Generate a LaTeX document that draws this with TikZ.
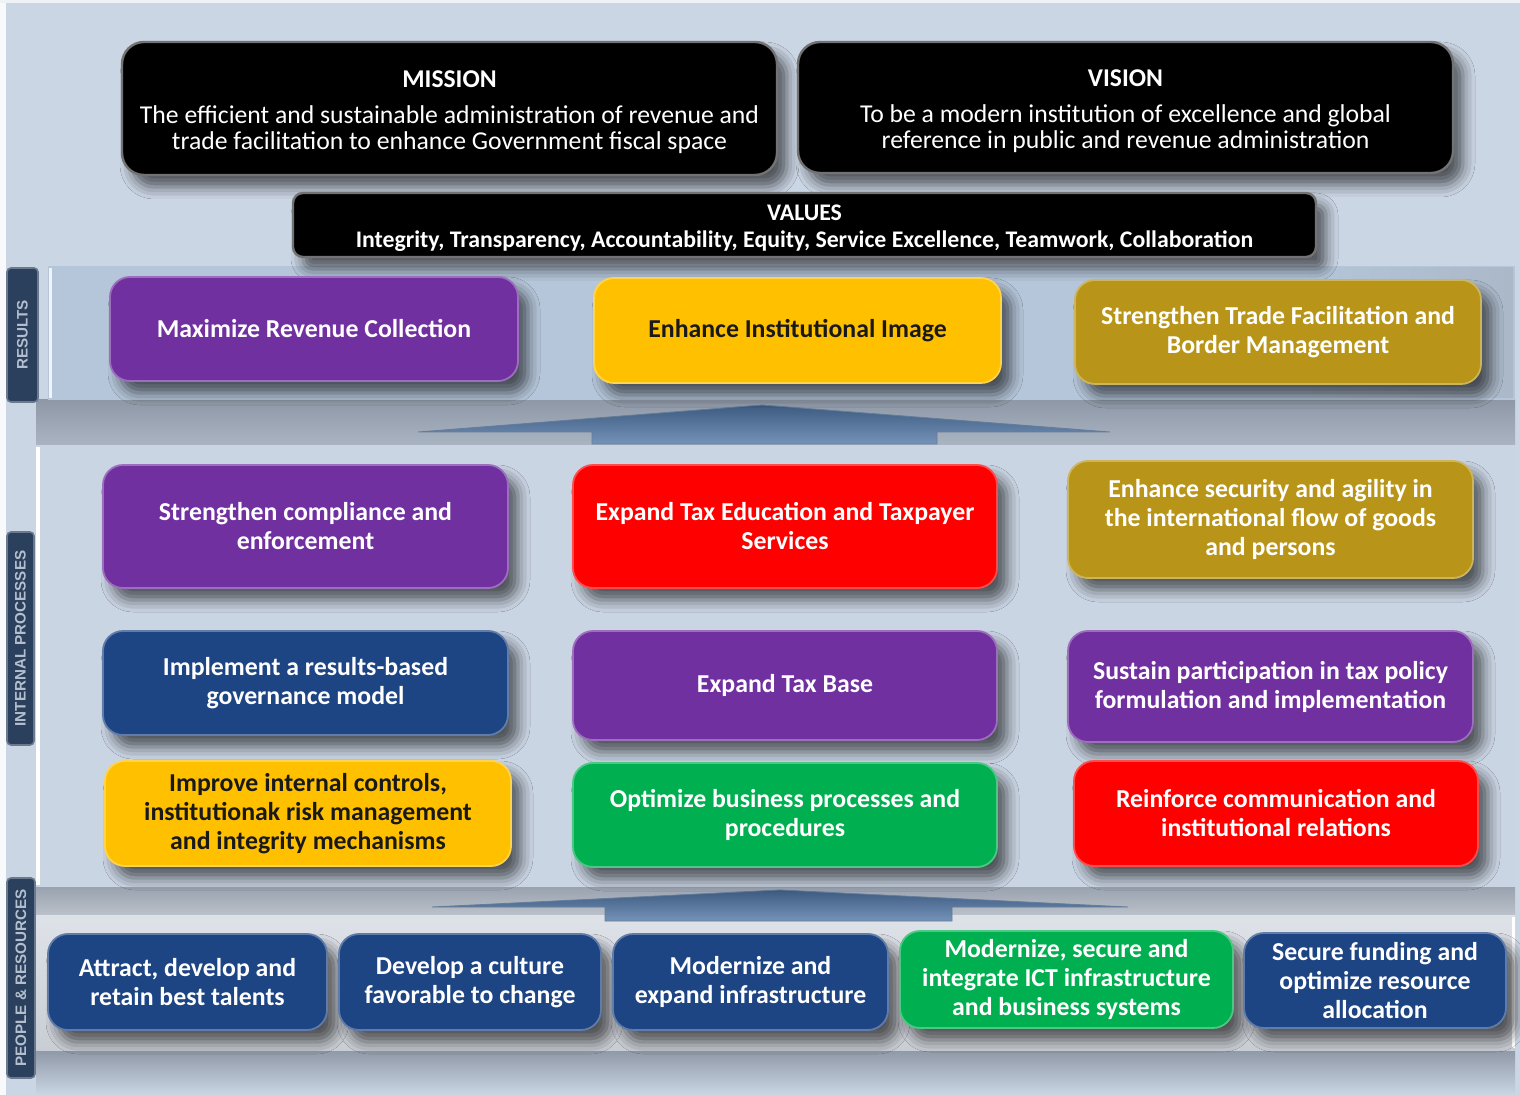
\documentclass[tikz,border=0pt]{standalone}
\usepackage{fontspec}
\setmainfont{Carlito}
\newfontfamily\tabfont{Liberation Sans}
\usetikzlibrary{shadows.blur}

% palette
\definecolor{bgblue}{HTML}{CBD6E5}
\definecolor{bandres}{HTML}{B5C6DA}
\definecolor{bandint}{HTML}{CAD5E3}
\definecolor{bandppl}{HTML}{D6DBE3}
\definecolor{gapgray}{HTML}{8E98A6}
\definecolor{tabnavy}{HTML}{2B405D}
\definecolor{tabtext}{HTML}{B3BFCF}
\definecolor{cpurple}{HTML}{7130A0}
\definecolor{cyellow}{HTML}{FFC000}
\definecolor{cgold}{HTML}{B89518}
\definecolor{cred}{HTML}{FF0000}
\definecolor{cgreen}{HTML}{00B050}
\definecolor{cnavy}{HTML}{1D4483}
\definecolor{arrowdark}{HTML}{3D5B80}
\definecolor{arrowlight}{HTML}{7593B8}

\tikzset{
  sz/.style 2 args={minimum width=#1*0.5pt, minimum height=#2*0.5pt},
  softshadow/.style={blur shadow={shadow xshift=5pt, shadow yshift=-6pt,
      shadow blur radius=6pt, shadow opacity=60}},
  tile/.style={rounded corners=10pt, fill=#1, draw=#1!70!white, line width=0.9pt,
      align=center, inner sep=0pt, text=white, softshadow,
      font=\bfseries\fontsize{12.9}{14.5}\selectfont},
  darktile/.style={tile=#1, text=black!90},
  blackbox/.style={rounded corners=11pt, fill=black, draw=black!55, line width=1.2pt,
      align=center, inner sep=0pt, text=white, softshadow},
  bigtext/.style={font=\fontsize{12.85}{13}\selectfont},
  sidetab/.style={rounded corners=2pt, fill=tabnavy, draw=tabnavy!70!white,
      line width=0.8pt, text=tabtext, rotate=90,
      font=\tabfont\bfseries\fontsize{7.6}{9}\selectfont},
  bigarrow/.style={top color=arrowdark, bottom color=arrowlight, draw=arrowdark!80!white,
      line width=0.4pt}
}

\begin{document}
\begin{tikzpicture}[x=0.5pt,y=-0.5pt]
\useasboundingbox (0,0) rectangle (1520,1095);
\fill[bgblue] (0,0) rectangle (1520,1095);
\fill[white!85!bgblue] (0,0) rectangle (6,1095);
\fill[white!70!bgblue] (0,0) rectangle (1520,3);

% ---- bands and the shaded gaps between them ----
\shade[top color=gapgray, bottom color=gapgray!55!bgblue] (36,400) rectangle (1515,445);
\shade[top color=gapgray!90!white, bottom color=gapgray!60!white] (36,887) rectangle (1515,915);
\shade[top color=gapgray, bottom color=bgblue] (36,1050) rectangle (1515,1095);

\fill[bandres] (48,266) rectangle (1515,400);
\draw[white!80!bandres, line width=1.5pt] (50,268) -- (50,398);
\shade[left color=bandres, right color=bandres!80!gray] (1300,268) rectangle (1513,398);

\fill[bandint] (36,445) rectangle (1515,887);
\draw[white, line width=2pt] (38,447) -- (38,885);

\shade[top color=bandppl!80!white, bottom color=bandppl!85!gray] (36,915) rectangle (1515,1050);
\draw[white, line width=1.5pt] (1513,917) -- (1513,1048);

% ---- upward arrows ----
\path[bigarrow] (418,432) -- (762,405) -- (1110,432) -- (937,432) -- (937,444)
  -- (592,444) -- (592,432) -- cycle;
\path[bigarrow] (432,907) -- (780,890) -- (1128,907) -- (952,907) -- (952,921)
  -- (605,921) -- (605,907) -- cycle;

% ---- side tabs ----
\node[sidetab, minimum width=134*0.5pt, minimum height=31*0.5pt] (tabres) at (22.5,335) {RESULTS};
\node[sidetab, minimum width=213*0.5pt, minimum height=27*0.5pt] (tabint) at (20.5,638.5) {INTERNAL PROCESSES};
\node[sidetab, minimum width=200*0.5pt, minimum height=28*0.5pt] (tabppl) at (21,978) {PEOPLE \& RESOURCES};

% ---- mission, vision, values ----
\node[blackbox, bigtext, sz={655}{133}] (mission) at (449.5,108.5)
  {\rule{0pt}{12pt}{\bfseries\fontsize{12.8}{13}\selectfont MISSION}\\[5pt]
   The efficient and sustainable administration of revenue and\\
   trade facilitation to enhance Government fiscal space};
\node[blackbox, bigtext, sz={655}{131}] (vision) at (1125.5,107.5)
  {\rule{0pt}{12pt}{\bfseries\fontsize{12.8}{13}\selectfont VISION}\\[5pt]
   To be a modern institution of excellence and global\\
   reference in public and revenue administration};
\node[blackbox, rounded corners=5pt, sz={1023}{64},
      font=\bfseries\fontsize{11.9}{13.5}\selectfont] (values) at (804.5,225)
  {\rule{0pt}{11.5pt}VALUES\\
   Integrity, Transparency, Accountability, Equity, Service Excellence, Teamwork, Collaboration};

% ---- results ----
\node[tile=cpurple, sz={408}{104}] (res1) at (314,329) {Maximize Revenue Collection};
\node[darktile=cyellow, sz={407}{105}] (res2) at (797.5,330.5) {Enhance Institutional Image};
\node[tile=cgold, sz={406}{104}] (res3) at (1278,332) {Strengthen Trade Facilitation and\\Border Management};

% ---- internal processes ----
\node[tile=cpurple, sz={405}{123}] (ip11) at (305.5,526.5) {Strengthen compliance and\\enforcement};
\node[tile=cred, sz={424}{123}] (ip12) at (785,526.5) {Expand Tax Education and Taxpayer\\Services};
\node[tile=cgold, sz={405}{117}] (ip13) at (1270.5,519.5) {Enhance security and agility in\\the international flow of goods\\and persons};

\node[tile=cnavy, sz={405}{104}] (ip21) at (305.5,683) {Implement a results-based\\governance model};
\node[tile=cpurple, sz={424}{109}] (ip22) at (785,685.5) {Expand Tax Base};
\node[tile=cpurple, sz={405}{111}] (ip23) at (1270.5,686.5) {Sustain participation in tax policy\\formulation and implementation};

\node[darktile=cyellow, sz={406}{105}] (ip31) at (308,813.5) {Improve internal controls,\\institutionak risk management\\and integrity mechanisms};
\node[tile=cgreen, sz={424}{104}] (ip32) at (785,815) {Optimize business processes and\\procedures};
\node[tile=cred, sz={404}{105}] (ip33) at (1276,813.5) {Reinforce communication and\\institutional relations};

% ---- people & resources ----
\node[tile=cnavy, sz={279}{96}] (pr1) at (187.5,982) {Attract, develop and\\retain best talents};
\node[tile=cnavy, sz={262}{96}] (pr2) at (470,982) {Develop a culture\\favorable to change};
\node[tile=cnavy, sz={275}{96}] (pr3) at (750.5,982) {Modernize and\\expand infrastructure};
\node[tile=cgreen, sz={333}{97}] (pr4) at (1066.5,979.5) {Modernize, secure and\\integrate ICT infrastructure\\and business systems};
\node[tile=cnavy, sz={262}{95}] (pr5) at (1375,980.5) {Secure funding and\\optimize resource\\allocation};
\end{tikzpicture}
\end{document}
